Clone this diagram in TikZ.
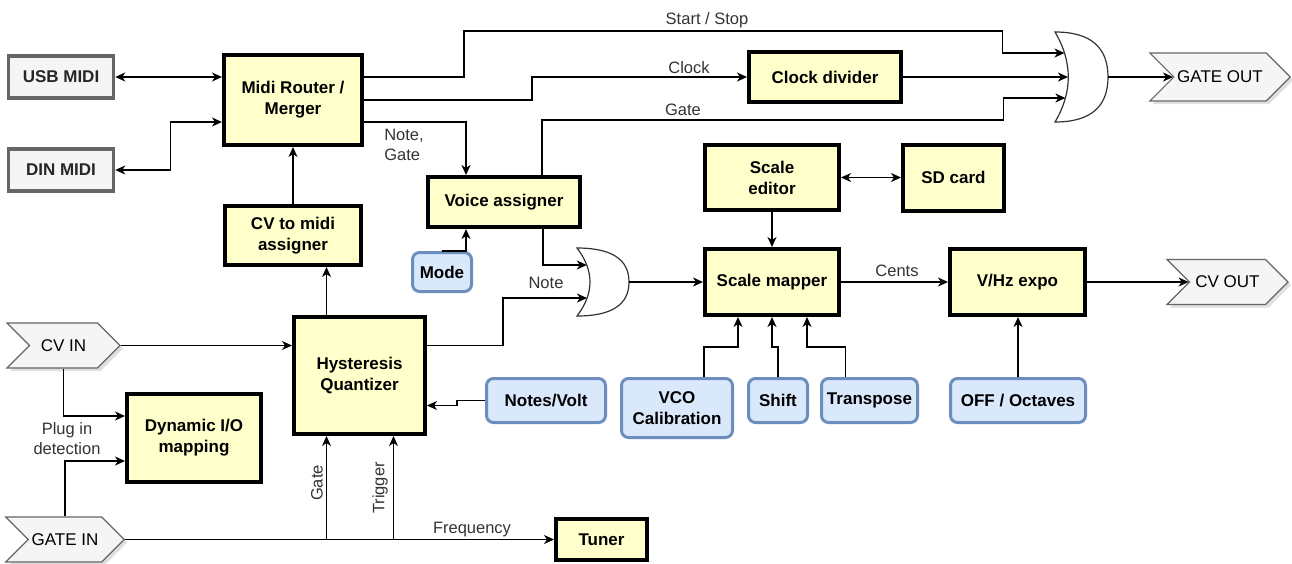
\documentclass[tikz,border=0pt]{standalone}
\usepackage{fontspec}
\setmainfont{Liberation Sans}
\usetikzlibrary{arrows.meta, positioning, calc, shapes.symbols, shadows}

\definecolor{boxfill}{HTML}{FFFFCC}
\definecolor{extfill}{HTML}{F5F5F5}
\definecolor{extline}{HTML}{666666}
\definecolor{parfill}{HTML}{DAE8FC}
\definecolor{parline}{HTML}{6C8EBF}
\definecolor{lbltext}{HTML}{333333}

\begin{document}
\begin{tikzpicture}[x=1pt,y=-1pt,
  blk/.style={rectangle,draw=black,fill=boxfill,line width=4pt,align=center,font=\fontsize{17}{21}\selectfont\bfseries,inner sep=2pt},
  ext/.style={rectangle,draw=extline,fill=extfill,line width=3.5pt,align=center,font=\fontsize{17}{21}\selectfont\bfseries,text=black!85},
  par/.style={rectangle,draw=parline,fill=parfill,line width=3pt,rounded corners=7pt,align=center,font=\fontsize{17}{21}\selectfont\bfseries,inner sep=2pt},
  io/.style={signal,signal to=east,signal from=west,signal pointer angle=90,draw=extline,fill=extfill,line width=1.2pt,font=\fontsize{17}{21}\selectfont,drop shadow={shadow xshift=3pt,shadow yshift=-3pt,fill=black!25}},
  orgate/.style={draw=black!80,fill=white,line width=1.2pt},
  arr/.style={-{Stealth[length=10pt,width=9pt,inset=3pt]},line width=1.3pt},
  biarr/.style={{Stealth[length=10pt,width=9pt,inset=3pt]}-{Stealth[length=10pt,width=9pt,inset=3pt]},line width=1.3pt},
  lbl/.style={font=\fontsize{16.5}{20}\selectfont,text=lbltext,align=center,inner sep=1pt}
]
  \useasboundingbox (0,0) rectangle (1292,563);

  \node[ext, minimum width=105pt, minimum height=42pt] (usb) at (61,77) {USB MIDI};
  \node[ext, minimum width=105pt, minimum height=42pt] (din) at (61,170) {DIN MIDI};
  \node[blk, minimum width=138pt, minimum height=90pt] (router) at (293,100) {Midi Router /\\Merger};
  \node[blk, minimum width=136pt, minimum height=59pt] (cvmidi) at (293,235.5) {CV to midi\\assigner};
  \node[blk, minimum width=152pt, minimum height=50pt] (voice) at (504,202) {Voice assigner};
  \node[par, minimum width=59pt, minimum height=39pt] (mode) at (442,272) {Mode};
  \node[blk, minimum width=152pt, minimum height=50pt] (clkdiv) at (825,77) {Clock divider};
  \node[blk, minimum width=134pt, minimum height=65pt] (sedit) at (772,177.5) {Scale\\editor};
  \node[blk, minimum width=101pt, minimum height=66pt] (sdcard) at (953.5,177.5) {SD card};
  \node[blk, minimum width=134pt, minimum height=66pt] (smap) at (772,282) {Scale mapper};
  \node[blk, minimum width=135pt, minimum height=66pt] (vhz) at (1017.5,282) {V/Hz expo};
  \node[par, minimum width=135pt, minimum height=44pt] (octave) at (1018,400.5) {OFF / Octaves};
  \node[blk, minimum width=131pt, minimum height=117pt] (quant) at (359.5,375.5) {Hysteresis\\Quantizer};
  \node[blk, minimum width=134pt, minimum height=88pt] (dynio) at (194,438) {Dynamic I/O\\mapping};
  \node[blk, minimum width=91pt, minimum height=41pt] (tuner) at (601.5,539.5) {Tuner};
  \node[par, minimum width=119pt, minimum height=44pt] (notesv) at (546,400.5) {Notes/Volt};
  \node[par, minimum width=111pt, minimum height=59pt] (vco) at (677,408) {VCO\\Calibration};
  \node[par, minimum width=59pt, minimum height=44pt] (shift) at (778,400.5) {Shift};
  \node[par, minimum width=96pt, minimum height=44pt] (transp) at (869.5,400.5) {Transpose};

  \node[io, minimum width=113pt, minimum height=45pt] (cvin) at (63.5,345.5) {CV IN};
  \node[io, minimum width=116pt, minimum height=45pt] (gatein) at (65,539.5) {GATE IN};
  \node[io, minimum width=136pt, minimum height=48pt] (gateout) at (1220,77) {GATE OUT};
  \node[io, minimum width=121pt, minimum height=45pt] (cvout) at (1227.5,282) {CV OUT};

  \draw[orgate] (1055,32) .. controls (1090.3,32) and (1108,47) .. (1108,77) .. controls (1108,107) and (1090.3,122) .. (1055,122) .. controls (1072.7,92) and (1072.7,62) .. cycle;
  \coordinate (g1a) at (1064.5,53);
  \coordinate (g1b) at (1068,77);
  \coordinate (g1c) at (1065.4,98);
  \coordinate (g1o) at (1108,77);
  \draw[orgate] (577,248) .. controls (611.7,248) and (629,259.3) .. (629,282) .. controls (629,304.7) and (611.7,316) .. (577,316) .. controls (594.3,293.3) and (594.3,270.7) .. cycle;
  \coordinate (g2a) at (586.8,265);
  \coordinate (g2b) at (587,298);
  \coordinate (g2o) at (629,282);

  \draw[biarr] (usb.east) -- (usb.east -| router.west);
  \draw[biarr] (din.east) -- ++(55,0) |- ($(router.west)+(0,22)$);
  \draw[arr] ($(router.east)+(0,-23)$) -- ++(100,0) |- ($(g1a)+(-62,-22)$) |- (g1a);
  \draw[arr] (router.east) -- ++(168,0) |- (clkdiv.west);
  \draw[arr] ($(router.east)+(0,22)$) -| ($(voice.north)+(-38,0)$);
  \draw[arr] ($(voice.north)+(38,0)$) |- ($(g1c)+(-62,22)$) |- (g1c);
  \draw[arr] (clkdiv.east) -- (g1b);
  \draw[arr] (g1o) -- (gateout.west);
  \draw[arr] (mode.north) -| ($(voice.south)+(-38,0)$);
  \draw[arr] ($(voice.south)+(39,0)$) |- (g2a);
  \draw[arr] ($(quant.east)+(0,-30)$) -- ++(76,0) |- (g2b);
  \draw[arr] (g2o) -- (smap.west);
  \draw[arr] (sedit) -- (smap);
  \draw[biarr] (sedit.east) -- (sdcard.west);
  \draw[arr] (smap) -- (vhz);
  \draw[arr] (vhz.east) -- (vhz.east -| cvout.west);
  \draw[arr] (octave.north) -- (octave.north |- vhz.south);
  \draw[arr] (cvin.east) -- (cvin.east -| quant.west);
  \coordinate (qn) at ([xshift=-33pt]quant.north);
  \draw[arr] (qn) -- (qn |- cvmidi.south);
  \draw[arr] (cvmidi) -- (router);
  \draw[arr] (cvin.south) |- ([yshift=22pt]dynio.west);
  \draw[arr] (gatein.north) |- ([yshift=-23pt]dynio.west);
  \draw[arr] (gatein.east) -- (tuner.west);
  \coordinate (qg) at ([xshift=-33pt]quant.south);
  \coordinate (qt) at ([xshift=34pt]quant.south);
  \foreach \c in {qg,qt}{\draw[arr] (\c |- gatein.east) -- (\c);}
  \draw[arr] (notesv.west) -- ++(-28,0) |- ([yshift=-30pt]quant.east);
  \draw[arr] ([xshift=27pt]vco.north) -- ++(0,-30) -| ([xshift=-34pt]smap.south);
  \draw[arr] (shift.north) -- ++(0,-30) -| (smap.south);
  \draw[arr] ([xshift=-24pt]transp.north) -- ++(0,-30) -| ([xshift=35pt]smap.south);

  \node[lbl] (tstart) at (707,20) {Start / Stop};
  \node[lbl] (tclock) at (689,68) {Clock};
  \node[lbl] (tgate) at (683,110) {Gate};
  \node[lbl, align=left] (tnote) at (404,145) {Note,\\Gate};
  \node[lbl] (tnote2) at (546,283) {Note};
  \node[lbl] (tcents) at (897,271) {Cents};
  \node[lbl] (tfreq) at (472,530) {Frequency};
  \node[lbl] (tplug) at (67,439) {Plug in\\detection};
  \node[lbl, rotate=90] (tgate2) at (317,483) {Gate};
  \node[lbl, rotate=90] (ttrig) at (380,488) {Trigger};
\end{tikzpicture}
\end{document}
